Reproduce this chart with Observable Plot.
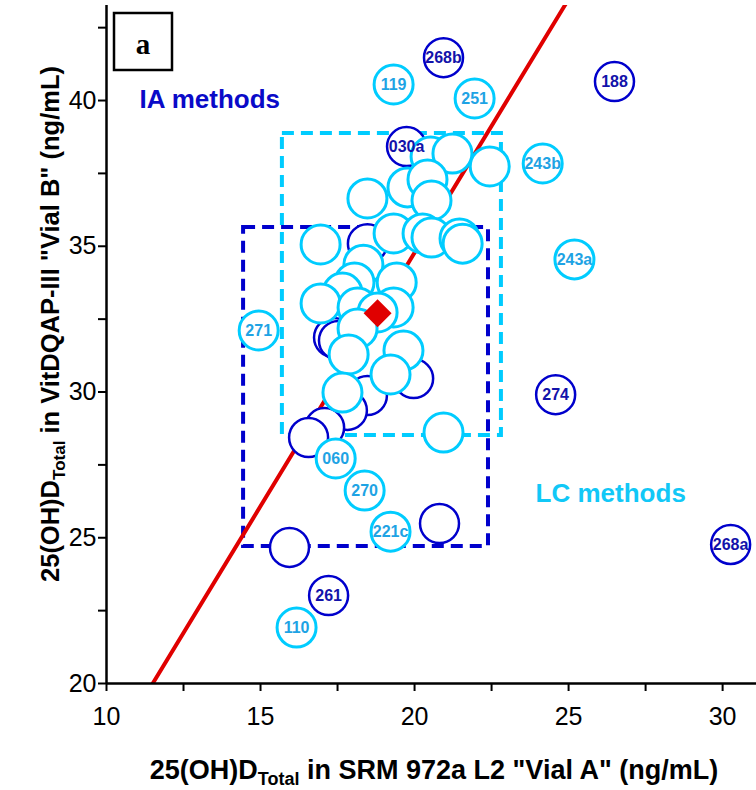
<!DOCTYPE html>
<html>
<head>
<meta charset="utf-8">
<script src="https://cdn.jsdelivr.net/npm/d3@7"></script>
<script src="https://cdn.jsdelivr.net/npm/@observablehq/plot@0.6"></script>
<style>
  html, body { margin: 0; padding: 0; background: #fff; }
  #chart svg { display: block; }
</style>
</head>
<body>
<div id="chart"></div>
<script>
// ---- Data ----
// IA (immunoassay) results: x = SRM 972a L2 "Vial A", y = VitDQAP-III "Vial B"
const iaLabels = ["268b", "188", "030a", "274", "261", "268a", "", "", "", "", "", "", "", "", "", ""];
const iaX = [20.94, 26.49, 19.74, 24.58, 17.21, 30.26, 18.47, 17.37, 17.53, 19.97, 18.47, 17.82, 17.08, 16.56, 20.81, 15.94];
const iaY = [41.47, 40.65, 38.42, 29.91, 23.02, 24.77, 35.09, 31.87, 31.77, 30.46, 29.88, 29.37, 28.78, 28.44, 25.49, 24.67];

// LC (liquid chromatography) results
const lcLabels = ["119", "251", "243b", "243a", "271", "060", "270", "221c", "110",
  "", "", "", "", "", "", "", "", "", "", "", "", "", "", "", "", "", "", "", "", "", "", "", "", "", "", ""];
const lcX = [19.32, 21.95, 24.16, 25.19, 14.94, 17.44, 18.38, 19.22, 16.17,
  20.52, 21.23, 22.44, 19.77, 20.42, 20.55, 18.47, 16.95, 19.32, 20.26, 20.55, 21.46, 21.56,
  18.34, 19.42, 18.05, 17.66, 16.95, 18.15, 19.32, 18.80, 18.15, 17.86, 19.64, 19.22, 17.66, 20.94];
const lcY = [40.55, 40.07, 37.84, 34.55, 32.11, 27.72, 26.62, 25.21, 21.92,
  38.08, 38.18, 37.74, 37.02, 37.29, 36.57, 36.64, 35.06, 35.44, 35.44, 35.30, 35.27, 35.09,
  34.37, 33.76, 33.76, 33.41, 33.04, 32.90, 32.90, 32.73, 32.18, 31.29, 31.42, 30.60, 29.98, 28.61];

// Consensus value (red diamond)
const consensusX = [18.8];
const consensusY = [32.7];

// Reference line (red) endpoints
const refLineX = [11.5, 24.9];
const refLineY = [20.0, 43.3];

// Dashed boxes: [x1, x2, y1, y2]
const iaBox = [14.45, 22.40, 24.70, 35.64];
const lcBox = [15.71, 22.82, 28.51, 38.87];

// Axis ticks
const xMajor = [10, 15, 20, 25, 30];
const xMinor = [12.5, 17.5, 22.5, 27.5];
const yMajor = [20, 25, 30, 35, 40];
const yMinor = [22.5, 27.5, 32.5, 37.5, 42.5];

// Group labels
const groupNames = ["IA methods", "LC methods"];
const groupX = [11.07, 23.93];
const groupY = [39.76, 26.24];

// ---- Build tables ----
const ia = iaX.map((x, i) => ({x, y: iaY[i], label: iaLabels[i]}));
const lc = lcX.map((x, i) => ({x, y: lcY[i], label: lcLabels[i]}));
const consensus = consensusX.map((x, i) => ({x, y: consensusY[i]}));
const refLine = refLineX.map((x, i) => ({x, y: refLineY[i]}));
const boxes = [
  {x1: iaBox[0], x2: iaBox[1], y1: iaBox[2], y2: iaBox[3], c: "ia"},
  {x1: lcBox[0], x2: lcBox[1], y1: lcBox[2], y2: lcBox[3], c: "lc"}
];
const groups = groupNames.map((t, i) => ({t, x: groupX[i], y: groupY[i]}));

const DARK = "#0000cc";
const DARK_TEXT = "#1212aa";
const LIGHT = "#00ccff";
const LIGHT_TEXT = "#1ea3e4";
const RED = "#e00000";

const W = 756, H = 790;
const mL = 106, mR = 0, mT = 5, mB = 107;

const chart = Plot.plot({
  width: W, height: H,
  marginLeft: mL, marginRight: mR, marginTop: mT, marginBottom: mB,
  style: {fontFamily: "'Liberation Sans', Arial, sans-serif", color: "#000", background: "#fff", overflow: "visible"},
  x: {domain: [10, 31.1]},
  y: {domain: [20, 43.26]},
  marks: [
    // dashed boxes
    Plot.rect(boxes, {x1: "x1", x2: "x2", y1: "y1", y2: "y2", fill: "none",
      stroke: d => d.c === "ia" ? DARK : LIGHT, strokeWidth: 4, strokeDasharray: "12,7"}),
    // red reference line
    Plot.line(refLine, {x: "x", y: "y", stroke: RED, strokeWidth: 4, clip: true}),
    // IA circles
    Plot.dot(ia, {x: "x", y: "y", r: 19.5, fill: "#fff", stroke: DARK, strokeWidth: 2.5}),
    // LC circles
    Plot.dot(lc, {x: "x", y: "y", r: 19.5, fill: "#fff", stroke: LIGHT, strokeWidth: 3}),
    // consensus diamond
    Plot.dot(consensus, {x: "x", y: "y", symbol: "diamond2", r: 12.6, fill: RED, stroke: "none"}),
    // circle labels
    Plot.text(ia.filter(d => d.label), {x: "x", y: "y", text: "label", fill: DARK_TEXT,
      fontSize: 16, fontWeight: "bold"}),
    Plot.text(lc.filter(d => d.label), {x: "x", y: "y", text: "label", fill: LIGHT_TEXT,
      fontSize: 16, fontWeight: "bold"}),
    // group labels
    Plot.text(groups, {x: "x", y: "y", text: "t", textAnchor: "start", lineAnchor: "bottom",
      fill: (d, i) => i === 0 ? "#0a0ac8" : "#11c8f7", fontSize: 26, fontWeight: "bold"}),
    // axes
    Plot.axisX({ticks: xMajor, tickSize: 8, tickPadding: 16, tickFormat: d => d, fontSize: 25, strokeWidth: 2, label: null}),
    Plot.axisX({ticks: xMinor, tickSize: 8, tickFormat: () => "", strokeWidth: 2, label: null}),
    Plot.axisY({ticks: yMajor, tickSize: 8, tickPadding: 2, tickFormat: d => d, fontSize: 25, strokeWidth: 2, label: null}),
    Plot.axisY({ticks: yMinor, tickSize: 8, tickFormat: () => "", strokeWidth: 2, label: null}),
    Plot.ruleY([20], {stroke: "#000", strokeWidth: 2.5}),
    Plot.ruleX([10], {stroke: "#000", strokeWidth: 2.5})
  ]
});

document.getElementById("chart").appendChild(chart);

// Panel label box "a" and axis titles (with subscripts)
const svg = d3.select(chart);
const panel = svg.append("g");
panel.append("rect").attr("x", mL + 8).attr("y", 13).attr("width", 58).attr("height", 57)
  .attr("fill", "#fff").attr("stroke", "#000").attr("stroke-width", 2.5);
panel.append("text").attr("x", mL + 37).attr("y", 54).attr("text-anchor", "middle")
  .attr("font-family", "'Liberation Serif', 'Times New Roman', serif").attr("font-weight", "bold")
  .attr("font-size", 29).attr("fill", "#000").text("a");

const xt = svg.append("text")
  .attr("x", 434).attr("y", 779).attr("text-anchor", "middle")
  .attr("font-family", "'Liberation Sans', Arial, sans-serif").attr("font-weight", "bold")
  .attr("font-size", 27).attr("fill", "#000");
xt.append("tspan").text("25(OH)D");
xt.append("tspan").attr("font-size", 18).attr("dy", 6).text("Total");
xt.append("tspan").attr("dy", -6).text(" in SRM 972a L2 \"Vial A\" (ng/mL)");

const yt = svg.append("text")
  .attr("transform", "translate(59,324) rotate(-90)").attr("text-anchor", "middle")
  .attr("font-family", "'Liberation Sans', Arial, sans-serif").attr("font-weight", "bold")
  .attr("font-size", 25.5).attr("fill", "#000");
yt.append("tspan").text("25(OH)D");
yt.append("tspan").attr("font-size", 17).attr("dy", 6).text("Total");
yt.append("tspan").attr("dy", -6).text(" in VitDQAP-III \"Vial B\" (ng/mL)");
</script>
</body>
</html>
